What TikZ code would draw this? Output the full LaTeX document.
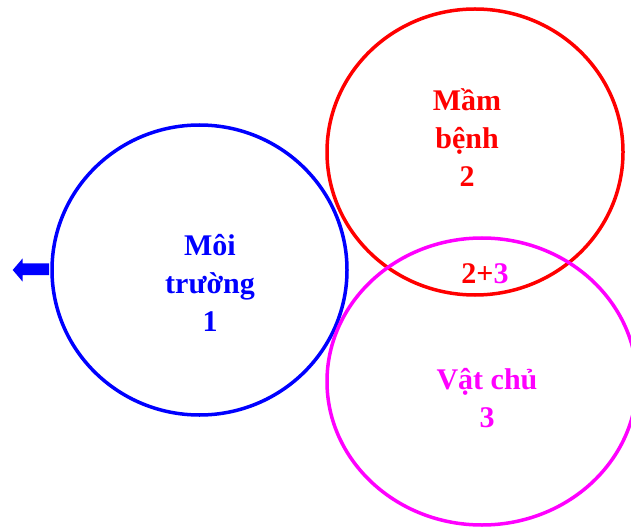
\documentclass[tikz,border=0pt]{standalone}
\usepackage{fontspec}
\setmainfont{Liberation Serif}
\usepackage{xcolor}
\usepackage{tikz}
\definecolor{clrEnv}{RGB}{0,0,255}
\definecolor{clrPath}{RGB}{255,0,0}
\definecolor{clrHost}{RGB}{255,0,255}
\tikzset{
  ring/.style={line width=3.5pt},
  label/.style={font=\fontsize{30}{38}\selectfont\bfseries,align=center,inner sep=0pt}
}
\begin{document}
\begin{tikzpicture}[x=1pt,y=-1pt]
  \useasboundingbox (0,0) rectangle (631,529);
  % three rings
  \draw[ring,clrEnv] (199.5,270) ellipse (147.5 and 145);
  \draw[ring,clrPath] (475,152) ellipse (148 and 143);
  \draw[ring,clrHost] (482,381.5) ellipse (155 and 143.5);
  % labels
  \node[label,text=clrEnv] (env) at (210,283) {Môi\\trường\\1};
  \node[label,text=clrPath] (path) at (467,138) {Mầm\\bệnh\\2};
  \node[label,text=clrHost] (host) at (487,398) {Vật chủ\\3};
  \node[label,anchor=base] (both) at (485,283) {\textcolor{clrPath}{2+}\textcolor{clrHost}{3}};
  % arrow on the left
  \fill[clrEnv] (49,263.3) -- (22.7,263.3) -- (22.7,258.3) -- (12.7,270)
    -- (22.7,281.7) -- (22.7,275) -- (49,275) -- cycle;
\end{tikzpicture}
\end{document}
